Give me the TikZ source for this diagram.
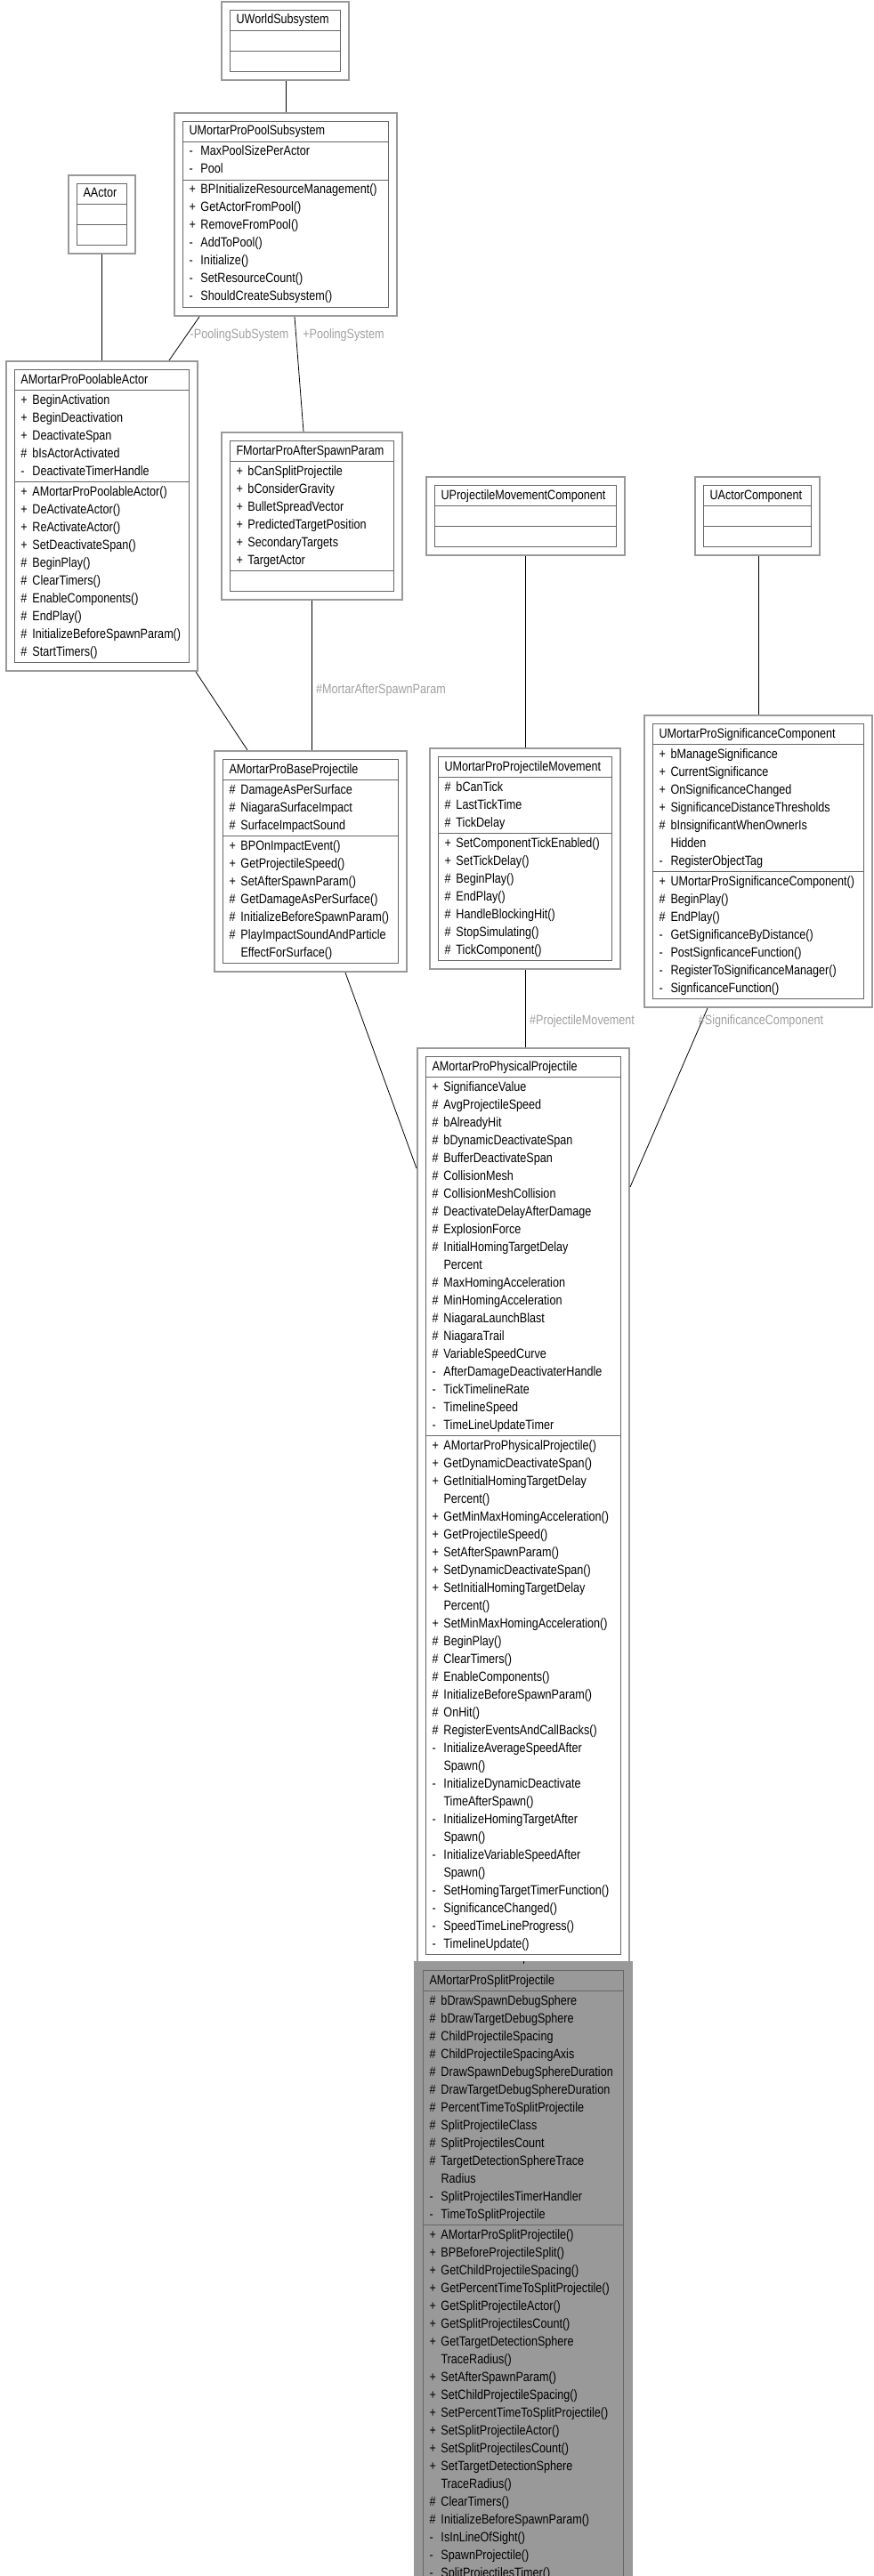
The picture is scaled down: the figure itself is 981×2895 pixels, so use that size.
\documentclass[tikz,border=0pt]{standalone}
\usepackage{fontspec}
\setmainfont[FakeStretch=0.84]{Liberation Sans}
\usetikzlibrary{arrows.meta}
\usetikzlibrary{shapes.multipart}
\usetikzlibrary{fit}
\usetikzlibrary{calc}
\usetikzlibrary{scopes}
\usetikzlibrary{backgrounds}

\definecolor{linkblue}{RGB}{99,184,255}
\definecolor{lblgray}{RGB}{160,160,160}
\definecolor{boxgray}{RGB}{153,153,153}
\definecolor{edgegray}{RGB}{102,102,102}

% one visibility row: symbol + member name
\newcommand{\vis}[2]{\makebox[6.5pt][l]{#1}#2\strut}

% \classbox[fill]{name}{x}{y}{width px}{title}{attributes}{methods}
\newcommand{\classbox}[8][white]{
  \node[classrow,fill=#1,anchor=north west,
        text width={\dimexpr #5pt*1/2-7pt\relax}] (#2) at (#3,#4)
    {\strut #6\nodepart{two}#7\nodepart{three}#8};
  \begin{scope}[on background layer]
    \node[classframe,fill=#1,fit=(#2)] (#2O) {};
  \end{scope}
}

\tikzset{
  classrow/.style={rectangle split,rectangle split parts=3,
    rectangle split part align={center,left,left},
    draw=edgegray,line width=0.5pt,inner xsep=3.5pt,inner ysep=0.5pt,
    font=\fontsize{7.5}{10}\selectfont},
  classframe/.style={draw=boxgray,line width=1pt,inner sep=4.5pt},
  inherit/.style={draw=linkblue,line width=0.5pt,
    -{Triangle[open,length=7pt,width=5.5pt]}},
  aggr/.style={draw=linkblue,line width=0.5pt,
    -{Diamond[open,length=10pt,width=5.5pt]}},
  lbl/.style={text=lblgray,font=\fontsize{7.5}{10}\selectfont,inner sep=1pt}
}

\begin{document}
\begin{tikzpicture}[x=0.5pt,y=-0.5pt]

\useasboundingbox (0,0) rectangle (981,2895);

%top row
\classbox{world}{258}{11}{124}{UWorldSubsystem}{\strut}{\strut}

\classbox{pool}{205}{136}{231}{UMortarProPoolSubsystem}
  {\vis{-}{MaxPoolSizePerActor}\\\vis{-}{Pool}}
  {\vis{+}{BPInitializeResourceManagement()}\\\vis{+}{GetActorFromPool()}\\
   \vis{+}{RemoveFromPool()}\\\vis{-}{AddToPool()}\\\vis{-}{Initialize()}\\
   \vis{-}{SetResourceCount()}\\\vis{-}{ShouldCreateSubsystem()}}

\classbox{actor}{86}{206}{56}{AActor}{\strut}{\strut}

\classbox{poolact}{16}{415}{196}{AMortarProPoolableActor}
  {\vis{+}{BeginActivation}\\\vis{+}{BeginDeactivation}\\\vis{+}{DeactivateSpan}\\
   \vis{\#}{bIsActorActivated}\\\vis{-}{DeactivateTimerHandle}}
  {\vis{+}{AMortarProPoolableActor()}\\\vis{+}{DeActivateActor()}\\
   \vis{+}{ReActivateActor()}\\\vis{+}{SetDeactivateSpan()}\\\vis{\#}{BeginPlay()}\\
   \vis{\#}{ClearTimers()}\\\vis{\#}{EnableComponents()}\\\vis{\#}{EndPlay()}\\
   \vis{\#}{InitializeBeforeSpawnParam()}\\\vis{\#}{StartTimers()}}

\classbox{after}{258}{495}{184}{FMortarProAfterSpawnParam}
  {\vis{+}{bCanSplitProjectile}\\\vis{+}{bConsiderGravity}\\
   \vis{+}{BulletSpreadVector}\\\vis{+}{PredictedTargetPosition}\\
   \vis{+}{SecondaryTargets}\\\vis{+}{TargetActor}}{\strut}

\classbox{pmc}{488}{545}{204}{UProjectileMovementComponent}{\strut}{\strut}

\classbox{comp}{790}{545}{121}{UActorComponent}{\strut}{\strut}

%middle row
\classbox{base}{250}{853}{197}{AMortarProBaseProjectile}
  {\vis{\#}{DamageAsPerSurface}\\\vis{\#}{NiagaraSurfaceImpact}\\
   \vis{\#}{SurfaceImpactSound}}
  {\vis{+}{BPOnImpactEvent()}\\\vis{+}{GetProjectileSpeed()}\\
   \vis{+}{SetAfterSpawnParam()}\\\vis{\#}{GetDamageAsPerSurface()}\\
   \vis{\#}{InitializeBeforeSpawnParam()}\\\vis{\#}{PlayImpactSoundAndParticle}\\
   \vis{}{EffectForSurface()}}

\classbox{mov}{492}{850}{195}{UMortarProProjectileMovement}
  {\vis{\#}{bCanTick}\\\vis{\#}{LastTickTime}\\\vis{\#}{TickDelay}}
  {\vis{+}{SetComponentTickEnabled()}\\\vis{+}{SetTickDelay()}\\
   \vis{\#}{BeginPlay()}\\\vis{\#}{EndPlay()}\\\vis{\#}{HandleBlockingHit()}\\
   \vis{\#}{StopSimulating()}\\\vis{\#}{TickComponent()}}

\classbox{sig}{733}{813}{237}{UMortarProSignificanceComponent}
  {\vis{+}{bManageSignificance}\\\vis{+}{CurrentSignificance}\\
   \vis{+}{OnSignificanceChanged}\\\vis{+}{SignificanceDistanceThresholds}\\
   \vis{\#}{bInsignificantWhenOwnerIs}\\\vis{}{Hidden}\\\vis{-}{RegisterObjectTag}}
  {\vis{+}{UMortarProSignificanceComponent()}\\\vis{\#}{BeginPlay()}\\
   \vis{\#}{EndPlay()}\\\vis{-}{GetSignificanceByDistance()}\\
   \vis{-}{PostSignficanceFunction()}\\\vis{-}{RegisterToSignificanceManager()}\\
   \vis{-}{SignficanceFunction()}}

%physical projectile
\classbox{phys}{478}{1187}{219}{AMortarProPhysicalProjectile}
  {\vis{+}{SignifianceValue}\\\vis{\#}{AvgProjectileSpeed}\\\vis{\#}{bAlreadyHit}\\
   \vis{\#}{bDynamicDeactivateSpan}\\\vis{\#}{BufferDeactivateSpan}\\
   \vis{\#}{CollisionMesh}\\\vis{\#}{CollisionMeshCollision}\\
   \vis{\#}{DeactivateDelayAfterDamage}\\\vis{\#}{ExplosionForce}\\
   \vis{\#}{InitialHomingTargetDelay}\\\vis{}{Percent}\\
   \vis{\#}{MaxHomingAcceleration}\\\vis{\#}{MinHomingAcceleration}\\
   \vis{\#}{NiagaraLaunchBlast}\\\vis{\#}{NiagaraTrail}\\\vis{\#}{VariableSpeedCurve}\\
   \vis{-}{AfterDamageDeactivaterHandle}\\\vis{-}{TickTimelineRate}\\
   \vis{-}{TimelineSpeed}\\\vis{-}{TimeLineUpdateTimer}}
  {\vis{+}{AMortarProPhysicalProjectile()}\\\vis{+}{GetDynamicDeactivateSpan()}\\
   \vis{+}{GetInitialHomingTargetDelay}\\\vis{}{Percent()}\\
   \vis{+}{GetMinMaxHomingAcceleration()}\\\vis{+}{GetProjectileSpeed()}\\
   \vis{+}{SetAfterSpawnParam()}\\\vis{+}{SetDynamicDeactivateSpan()}\\
   \vis{+}{SetInitialHomingTargetDelay}\\\vis{}{Percent()}\\
   \vis{+}{SetMinMaxHomingAcceleration()}\\\vis{\#}{BeginPlay()}\\
   \vis{\#}{ClearTimers()}\\\vis{\#}{EnableComponents()}\\
   \vis{\#}{InitializeBeforeSpawnParam()}\\\vis{\#}{OnHit()}\\
   \vis{\#}{RegisterEventsAndCallBacks()}\\\vis{-}{InitializeAverageSpeedAfter}\\
   \vis{}{Spawn()}\\\vis{-}{InitializeDynamicDeactivate}\\\vis{}{TimeAfterSpawn()}\\
   \vis{-}{InitializeHomingTargetAfter}\\\vis{}{Spawn()}\\
   \vis{-}{InitializeVariableSpeedAfter}\\\vis{}{Spawn()}\\
   \vis{-}{SetHomingTargetTimerFunction()}\\\vis{-}{SignificanceChanged()}\\
   \vis{-}{SpeedTimeLineProgress()}\\\vis{-}{TimelineUpdate()}}

%split projectile
\classbox[boxgray]{split}{475}{2214}{225}{AMortarProSplitProjectile}
  {\vis{\#}{bDrawSpawnDebugSphere}\\\vis{\#}{bDrawTargetDebugSphere}\\
   \vis{\#}{ChildProjectileSpacing}\\\vis{\#}{ChildProjectileSpacingAxis}\\
   \vis{\#}{DrawSpawnDebugSphereDuration}\\\vis{\#}{DrawTargetDebugSphereDuration}\\
   \vis{\#}{PercentTimeToSplitProjectile}\\\vis{\#}{SplitProjectileClass}\\
   \vis{\#}{SplitProjectilesCount}\\\vis{\#}{TargetDetectionSphereTrace}\\
   \vis{}{Radius}\\\vis{-}{SplitProjectilesTimerHandler}\\
   \vis{-}{TimeToSplitProjectile}}
  {\vis{+}{AMortarProSplitProjectile()}\\\vis{+}{BPBeforeProjectileSplit()}\\
   \vis{+}{GetChildProjectileSpacing()}\\\vis{+}{GetPercentTimeToSplitProjectile()}\\
   \vis{+}{GetSplitProjectileActor()}\\\vis{+}{GetSplitProjectilesCount()}\\
   \vis{+}{GetTargetDetectionSphere}\\\vis{}{TraceRadius()}\\
   \vis{+}{SetAfterSpawnParam()}\\\vis{+}{SetChildProjectileSpacing()}\\
   \vis{+}{SetPercentTimeToSplitProjectile()}\\\vis{+}{SetSplitProjectileActor()}\\
   \vis{+}{SetSplitProjectilesCount()}\\\vis{+}{SetTargetDetectionSphere}\\
   \vis{}{TraceRadius()}\\\vis{\#}{ClearTimers()}\\
   \vis{\#}{InitializeBeforeSpawnParam()}\\\vis{-}{IsInLineOfSight()}\\
   \vis{-}{SpawnProjectile()}\\\vis{-}{SplitProjectilesTimer()}}

%inheritance
{[inherit]
  \draw (poolO.north) -- (poolO.north |- worldO.south);
  \draw (poolactO.north -| actorO.south) -- (actorO.south);
  \draw ($(baseO.north west)+(38,0)$) -- ($(poolactO.south east)+(-3,0)$);
  \draw (movO.north) -- (movO.north |- pmcO.south);
  \draw (sigO.north) -- (sigO.north |- compO.south);
  \draw ($(physO.north west)+(0,136)$) -- ($(baseO.south west)+(148,0)$);
  \draw (splitO.north) -- (splitO.north |- physO.south);
}

%aggregation
{[aggr]
  \draw ($(poolO.south west)+(29,0)$) -- ($(poolactO.north west)+(184,0)$);
  \draw ($(poolO.south west)+(136,0)$) -- ($(afterO.north west)+(93,0)$);
  \draw (afterO.south) -- (afterO.south |- baseO.north);
  \draw (movO.south) -- (movO.south |- physO.north);
  \draw ($(sigO.south west)+(72,0)$) -- ($(physO.north east)+(0,157)$);
}

%labels
\node[lbl] (lblpoolsub) at (269,377) {-PoolingSubSystem};
\node[lbl] (lblpoolsys) at (386,377) {+PoolingSystem};
\node[lbl] (lblafter) at (428,776) {\#MortarAfterSpawnParam};
\node[lbl] (lblmov) at (654,1148) {\#ProjectileMovement};
\node[lbl] (lblsig) at (855,1148) {\#SignificanceComponent};

\end{tikzpicture}
\end{document}
